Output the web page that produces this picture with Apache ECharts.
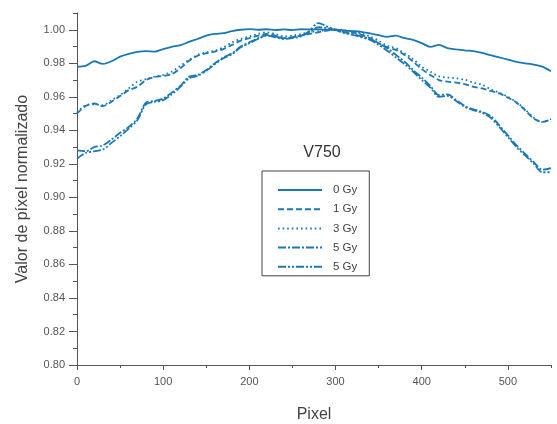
<!DOCTYPE html>
<html>
<head>
<meta charset="utf-8">
<script src="https://cdn.jsdelivr.net/npm/echarts@6/dist/echarts.min.js"></script>
<style>html,body{margin:0;padding:0;background:#fff}#c{width:557px;height:424px}</style>
</head>
<body>
<div id="c"></div>
<script>
var pixels = [0,10,20,30,40,50,60,70,80,90,100,110,120,130,140,150,160,170,180,190,200,210,220,230,240,250,260,270,280,290,300,310,320,330,340,350,360,370,380,390,400,410,420,430,440,450,460,470,480,490,500,510,520,530,540,550];
var seriesNames = ['0 Gy','1 Gy','3 Gy','5 Gy','5 Gy '];
var gy0 = [0.9780,0.9785,0.9812,0.9796,0.9812,0.9840,0.9856,0.9868,0.9872,0.9870,0.9885,0.9898,0.9908,0.9928,0.9945,0.9965,0.9975,0.9980,0.9992,1.0000,1.0004,1.0000,1.0003,0.9998,1.0002,0.9998,1.0003,1.0002,1.0002,1.0001,1.0000,0.9995,0.9992,0.9988,0.9978,0.9968,0.9958,0.9965,0.9950,0.9940,0.9920,0.9898,0.9910,0.9890,0.9883,0.9877,0.9872,0.9862,0.9848,0.9835,0.9822,0.9808,0.9800,0.9792,0.9780,0.9752];
var gy1 = [0.9500,0.9545,0.9560,0.9545,0.9570,0.9605,0.9640,0.9660,0.9700,0.9718,0.9725,0.9735,0.9770,0.9815,0.9845,0.9860,0.9870,0.9885,0.9910,0.9935,0.9950,0.9965,0.9975,0.9965,0.9950,0.9955,0.9965,0.9975,0.9985,0.9995,1.0000,0.9995,0.9985,0.9970,0.9950,0.9920,0.9895,0.9880,0.9850,0.9810,0.9765,0.9730,0.9700,0.9690,0.9685,0.9675,0.9660,0.9650,0.9635,0.9620,0.9595,0.9565,0.9520,0.9470,0.9450,0.9465];
var gy3 = [0.9505,0.9550,0.9555,0.9550,0.9580,0.9610,0.9650,0.9690,0.9705,0.9720,0.9730,0.9750,0.9785,0.9820,0.9850,0.9865,0.9875,0.9895,0.9925,0.9945,0.9960,0.9975,0.9985,0.9975,0.9960,0.9965,0.9975,0.9985,0.9992,0.9998,1.0000,0.9998,0.9990,0.9978,0.9960,0.9935,0.9905,0.9890,0.9860,0.9825,0.9780,0.9750,0.9722,0.9715,0.9710,0.9702,0.9685,0.9672,0.9645,0.9625,0.9600,0.9568,0.9525,0.9475,0.9450,0.9468];
var gy5a = [0.9280,0.9275,0.9300,0.9310,0.9345,0.9385,0.9420,0.9470,0.9565,0.9575,0.9590,0.9625,0.9665,0.9720,0.9730,0.9760,0.9800,0.9835,0.9860,0.9900,0.9925,0.9950,0.9968,0.9960,0.9950,0.9955,0.9965,0.9985,1.0015,1.0010,1.0000,0.9985,0.9975,0.9960,0.9945,0.9920,0.9890,0.9850,0.9810,0.9760,0.9715,0.9665,0.9610,0.9615,0.9580,0.9545,0.9525,0.9510,0.9485,0.9430,0.9370,0.9310,0.9260,0.9210,0.9165,0.9175];
var gy5b = [0.9230,0.9265,0.9275,0.9285,0.9325,0.9365,0.9410,0.9460,0.9555,0.9570,0.9580,0.9615,0.9660,0.9710,0.9725,0.9755,0.9795,0.9830,0.9855,0.9895,0.9920,0.9945,0.9965,0.9955,0.9945,0.9950,0.9960,0.9995,1.0040,1.0020,1.0000,0.9980,0.9970,0.9955,0.9940,0.9910,0.9875,0.9835,0.9795,0.9750,0.9700,0.9655,0.9600,0.9605,0.9575,0.9540,0.9520,0.9505,0.9475,0.9420,0.9360,0.9300,0.9250,0.9200,0.9150,0.9150];
var allValues = [gy0, gy1, gy3, gy5a, gy5b];
var dashTypes = ['solid', [6,3], [1.6,3], [8,2,2,2], [8,2,2,2,2,2]];

var xMajorTicks = [0,100,200,300,400,500];
var xMinorTicks = [50,150,250,350,450,550];
var yMajorTicks = [0.80,0.82,0.84,0.86,0.88,0.90,0.92,0.94,0.96,0.98,1.00];
var yMinorTicks = [0.81,0.83,0.85,0.87,0.89,0.91,0.93,0.95,0.97,0.99,1.01];

var COLOR = '#1a78b5';
var FONT = 'Liberation Sans';
var AX = '#555';
function pairs(vals){ return pixels.map(function(x,i){ return [x, vals[i]]; }); }

var series = allValues.map(function(v, i){
  return {
    name: seriesNames[i], type: 'line', data: pairs(v), showSymbol: false, symbol: 'none',
    smooth: 0.3, color: COLOR, xAxisIndex: 0, yAxisIndex: 0,
    lineStyle: { color: COLOR, width: 1.8, type: dashTypes[i] }
  };
});

var chart = echarts.init(document.getElementById('c'), null, {renderer: 'canvas'});
chart.setOption({
  animation: false,
  backgroundColor: '#fff',
  title: { text: 'V750', left: 317, top: 140, textAlign: 'center',
    textStyle: { fontFamily: FONT, fontSize: 16, fontWeight: 'normal', color: '#333' } },
  grid: { left: 77, right: 6, top: 13, bottom: 59, containLabel: false, outerBoundsMode: 'none' },
  legend: {
    orient: 'vertical', left: 262, top: 171,
    padding: [13, 12, 3, 15], itemGap: 7.2, itemWidth: 44, itemHeight: 14,
    borderColor: '#444', borderWidth: 1, backgroundColor: '#fff',
    data: seriesNames,
    itemStyle: { opacity: 0 },
    lineStyle: { width: 2 },
    formatter: function(n){ return n.trim(); },
    textStyle: { fontFamily: FONT, fontSize: 11.5, color: '#444', width: 30, padding: [0,0,0,6] }
  },
  xAxis: [{
    type: 'value', min: 0, max: 550,
    name: 'Pixel', nameLocation: 'middle', nameGap: 42,
    nameTextStyle: { fontFamily: FONT, fontSize: 16, color: '#444' },
    axisLine: { lineStyle: { color: AX, width: 1 } },
    axisTick: { show: true, length: 5, customValues: xMajorTicks, lineStyle: { color: AX } },
    splitLine: { show: false },
    axisLabel: { fontFamily: FONT, fontSize: 11, color: '#555', margin: 11, customValues: xMajorTicks }
  }, {
    type: 'value', min: 0, max: 550, position: 'bottom',
    axisLine: { show: false },
    axisTick: { show: true, length: 3, customValues: xMinorTicks, lineStyle: { color: AX } },
    splitLine: { show: false },
    axisLabel: { show: false }
  }],
  yAxis: [{
    type: 'value', min: 0.80, max: 1.01,
    name: 'Valor de píxel normalizado', nameLocation: 'middle', nameGap: 46,
    nameTextStyle: { fontFamily: FONT, fontSize: 16, color: '#444' },
    axisLine: { show: true, lineStyle: { color: AX, width: 1 } },
    axisTick: { show: true, length: 8, customValues: yMajorTicks, lineStyle: { color: AX } },
    splitLine: { show: false },
    axisLabel: { fontFamily: FONT, fontSize: 11, color: '#555', margin: 12, customValues: yMajorTicks,
      formatter: function(v){ return v.toFixed(2); } }
  }, {
    type: 'value', min: 0.80, max: 1.01, position: 'left',
    axisLine: { show: false },
    axisTick: { show: true, length: 4, customValues: yMinorTicks, lineStyle: { color: AX } },
    splitLine: { show: false },
    axisLabel: { show: false }
  }],
  series: series
});
</script>
</body>
</html>
